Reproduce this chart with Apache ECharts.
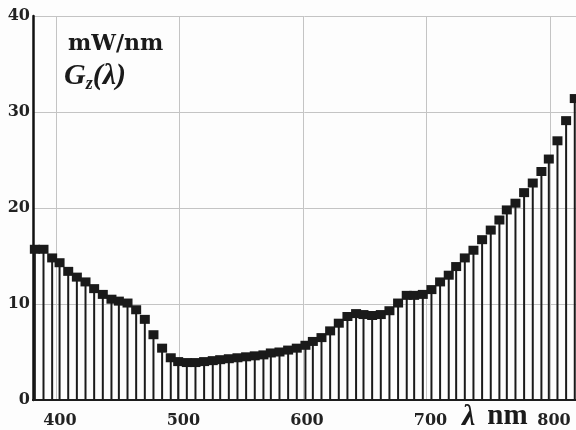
<!DOCTYPE html>
<html>
<head>
<meta charset="utf-8">
<title>Gz(λ)</title>
<script src="https://cdn.jsdelivr.net/npm/echarts@6/dist/echarts.min.js"></script>
<style>
  html, body { margin: 0; padding: 0; background: #fff; }
  #main { width: 576px; height: 430px; }
</style>
</head>
<body>
<div id="main"></div>
<script>
// wavelengths (nm) of each sample
var wavelengths = [
  383, 390, 397, 403, 410, 417, 424, 431, 438, 445,
  451, 458, 465, 472, 479, 486, 493, 499, 506, 513,
  520, 527, 533, 540, 547, 554, 561, 568, 574, 581,
  588, 595, 602, 608, 615, 622, 629, 636, 643, 649,
  656, 663, 670, 677, 684, 690, 697, 704, 711, 718,
  724, 731, 738, 745, 752, 759, 765, 772, 779, 786,
  793, 799, 806, 813, 820
];
// Gz(λ), mW/nm
var gz = [
  15.7, 15.7, 14.8, 14.3, 13.4, 12.8, 12.3, 11.6, 11.0, 10.5,
  10.3, 10.1, 9.4, 8.4, 6.8, 5.4, 4.4, 4.0, 3.9, 3.9,
  4.0, 4.1, 4.2, 4.3, 4.4, 4.5, 4.6, 4.7, 4.9, 5.0,
  5.2, 5.4, 5.7, 6.1, 6.5, 7.2, 8.0, 8.7, 9.0, 8.9,
  8.8, 8.9, 9.3, 10.1, 10.9, 10.9, 11.0, 11.5, 12.3, 13.0,
  13.9, 14.8, 15.6, 16.7, 17.7, 18.75, 19.8, 20.5, 21.6, 22.6,
  23.8, 25.1, 27.0, 29.1, 31.4
];
var yTicks = [0, 10, 20, 30, 40];

var pts = wavelengths.map(function (w, i) { return [w, gz[i]]; });

var labelFont = { fontFamily: 'DejaVu Serif', fontWeight: 'bold', fontSize: 16, color: '#222' };

var myChart = echarts.init(document.getElementById('main'), null, { renderer: 'canvas' });

var option = {
    backgroundColor: '#fdfdfd',
    animation: false,
    grid: { left: 33, right: 0, top: 16, bottom: 30 },
    xAxis: [{
        type: 'value',
        min: 381.5,
        max: 821,
        minInterval: 100,
        maxInterval: 100,
        axisLine: { show: true, onZero: false, lineStyle: { color: '#111', width: 2 } },
        axisTick: { show: false },
        axisLabel: Object.assign({ margin: 13, showMinLabel: false, showMaxLabel: false, padding: [0, 0, 0, 8] }, labelFont),
        splitLine: { show: true, lineStyle: { color: '#c4c4c4', width: 1 } }
    }, {
        type: 'value',
        position: 'top',
        min: 381.5,
        max: 821,
        axisLine: { show: true, lineStyle: { color: '#222', width: 1.5 } },
        axisTick: { show: false },
        axisLabel: { show: false },
        splitLine: { show: false }
    }],
    yAxis: {
        type: 'value',
        min: yTicks[0],
        max: yTicks[yTicks.length - 1],
        interval: 10,
        axisLine: { show: true, lineStyle: { color: '#111', width: 2.5 } },
        axisTick: { show: false },
        axisLabel: Object.assign({ margin: 3 }, labelFont),
        splitLine: { show: true, lineStyle: { color: '#c4c4c4', width: 1 } }
    },
    series: [{
        // stems
        type: 'bar',
        data: pts,
        barWidth: 2,
        itemStyle: { color: '#1a1a1a' },
        silent: true
    }, {
        // markers
        type: 'scatter',
        data: pts,
        symbol: 'rect',
        symbolSize: [10, 9],
        itemStyle: { color: '#1a1a1a', opacity: 1 },
        silent: true
    }],
    graphic: [{
        type: 'text',
        left: 68,
        top: 33,
        style: { text: 'mW/nm', fontFamily: 'DejaVu Serif', fontWeight: 'bold', fontSize: 22, fill: '#1a1a1a' }
    }, {
        type: 'text',
        left: 64,
        top: 61,
        style: {
            text: '{a|G}{s|z}{a|(λ)}',
            rich: {
                a: { fontFamily: 'Liberation Serif', fontStyle: 'italic', fontWeight: 'bold', fontSize: 30, fill: '#1a1a1a' },
                s: { fontFamily: 'Liberation Serif', fontStyle: 'italic', fontWeight: 'bold', fontSize: 18, fill: '#1a1a1a', padding: [16, 0, 0, 0] }
            }
        }
    }, {
        type: 'text',
        left: 462,
        top: 402,
        style: {
            text: '{l|λ}{n|nm}',
            rich: {
                l: { fontFamily: 'Liberation Serif', fontStyle: 'italic', fontWeight: 'bold', fontSize: 30, fill: '#1a1a1a' },
                n: { fontFamily: 'Liberation Serif', fontWeight: 'bold', fontSize: 29, fill: '#1a1a1a', padding: [0, 0, 0, 12] }
            }
        }
    }]
};

myChart.setOption(option);
</script>
</body>
</html>
